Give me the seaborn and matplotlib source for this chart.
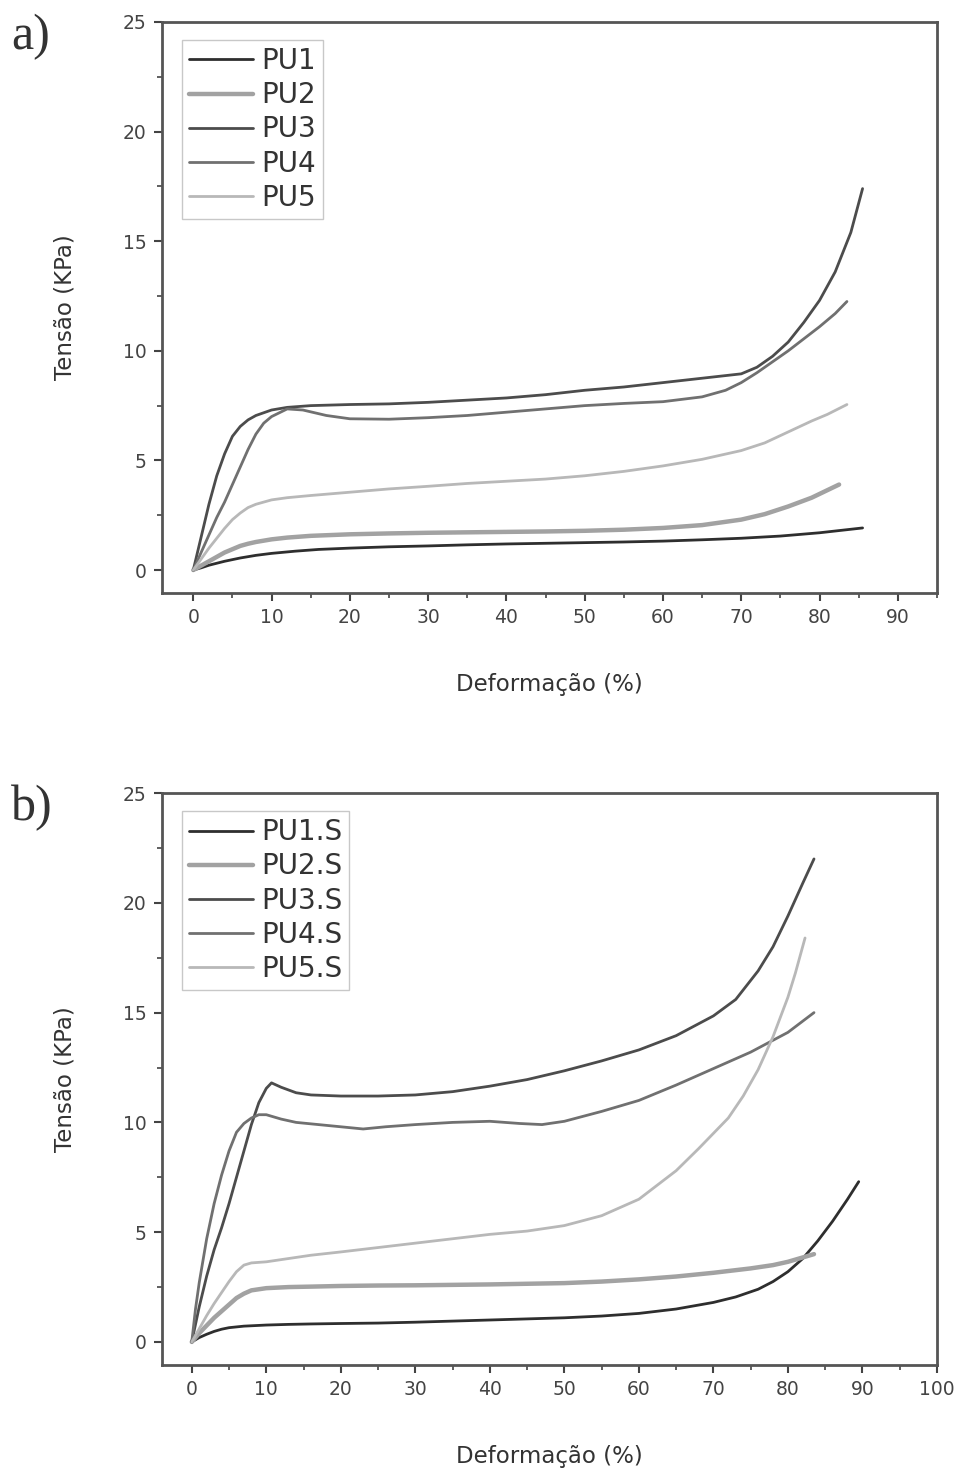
import numpy as np
import pandas as pd
import matplotlib
matplotlib.use("Agg")
import matplotlib.pyplot as plt
from matplotlib.ticker import MultipleLocator
import seaborn as sns

# ---- panel a) data (read off the figure) ----
pu1_x = [0, 1, 2, 4, 6, 8, 10, 13, 16, 20, 25, 30, 35, 40, 45, 50, 55, 60, 65, 70, 75, 80, 85.5]
pu1_y = [0, 0.1, 0.22, 0.4, 0.55, 0.67, 0.76, 0.86, 0.94, 1.0, 1.06, 1.1, 1.15, 1.19, 1.22, 1.25,
         1.28, 1.32, 1.38, 1.45, 1.55, 1.7, 1.92]

pu2_x = [0, 1, 2, 3, 4, 5, 6, 7, 8, 10, 12, 15, 20, 25, 30, 35, 40, 45, 50, 55, 60, 65, 70, 73,
         76, 79, 82.5]
pu2_y = [0, 0.2, 0.4, 0.6, 0.8, 0.95, 1.1, 1.2, 1.28, 1.4, 1.48, 1.56, 1.63, 1.67, 1.7, 1.72,
         1.74, 1.76, 1.79, 1.84, 1.92, 2.05, 2.3, 2.55, 2.9, 3.3, 3.9]

pu3_x = [0, 1, 2, 3, 4, 5, 6, 7, 8, 10, 12, 15, 20, 25, 30, 35, 40, 45, 50, 55, 60, 65, 70, 72,
         74, 76, 78, 80, 82, 84, 85.5]
pu3_y = [0, 1.5, 3.0, 4.3, 5.3, 6.1, 6.55, 6.85, 7.05, 7.3, 7.42, 7.5, 7.55, 7.58, 7.65, 7.75,
         7.85, 8.0, 8.2, 8.35, 8.55, 8.75, 8.95, 9.25, 9.75, 10.4, 11.3, 12.3, 13.6, 15.4, 17.4]

pu4_x = [0, 1, 2, 3, 4, 5, 6, 7, 8, 9, 10, 12, 14, 17, 20, 25, 30, 35, 40, 45, 50, 55, 60, 65,
         68, 70, 72, 74, 76, 78, 80, 82, 83.5]
pu4_y = [0, 0.8, 1.6, 2.4, 3.1, 3.9, 4.7, 5.5, 6.2, 6.7, 7.0, 7.35, 7.3, 7.05, 6.9, 6.88, 6.95,
         7.05, 7.2, 7.35, 7.5, 7.6, 7.68, 7.9, 8.2, 8.55, 9.0, 9.5, 10.0, 10.55, 11.1, 11.7, 12.25]

pu5_x = [0, 1, 2, 3, 4, 5, 6, 7, 8, 10, 12, 15, 20, 25, 30, 35, 40, 45, 50, 55, 60, 65, 70, 73,
         76, 79, 81, 83.5]
pu5_y = [0, 0.5, 1.0, 1.45, 1.9, 2.3, 2.6, 2.85, 3.0, 3.2, 3.3, 3.4, 3.55, 3.7, 3.82, 3.95,
         4.05, 4.15, 4.3, 4.5, 4.75, 5.05, 5.45, 5.8, 6.3, 6.8, 7.1, 7.55]

# ---- panel b) data ----
pu1s_x = [0, 1, 2, 3, 4, 5, 7, 10, 13, 16, 20, 25, 30, 35, 40, 45, 50, 55, 60, 65, 70, 73, 76,
          78, 80, 82, 84, 86, 88, 89.5]
pu1s_y = [0, 0.2, 0.35, 0.48, 0.58, 0.65, 0.72, 0.77, 0.8, 0.82, 0.84, 0.86, 0.9, 0.95, 1.0,
          1.05, 1.1, 1.18, 1.3, 1.5, 1.8, 2.05, 2.4, 2.75, 3.2, 3.8, 4.6, 5.5, 6.5, 7.3]

pu2s_x = [0, 1, 2, 3, 4, 5, 6, 7, 8, 10, 13, 16, 20, 25, 30, 35, 40, 45, 50, 55, 60, 65, 70, 75,
          78, 80, 83.5]
pu2s_y = [0, 0.4, 0.75, 1.1, 1.4, 1.7, 2.0, 2.2, 2.35, 2.45, 2.5, 2.52, 2.55, 2.57, 2.58, 2.6,
          2.62, 2.65, 2.68, 2.75, 2.85, 2.98, 3.15, 3.35, 3.5, 3.65, 4.0]

pu3s_x = [0, 1, 2, 3, 4, 5, 6, 7, 8, 9, 10, 10.7, 12, 14, 16, 20, 25, 30, 35, 40, 45, 50, 55,
          60, 65, 70, 73, 76, 78, 80, 82, 83.5]
pu3s_y = [0, 1.6, 3.0, 4.2, 5.2, 6.3, 7.5, 8.7, 9.9, 10.9, 11.55, 11.8, 11.6, 11.35, 11.25,
          11.2, 11.2, 11.25, 11.4, 11.65, 11.95, 12.35, 12.8, 13.3, 13.95, 14.85, 15.6, 16.9,
          18.0, 19.4, 20.9, 22.0]

pu4s_x = [0, 0.5, 1, 2, 3, 4, 5, 6, 7, 8, 9, 10, 12, 14, 17, 20, 23, 26, 30, 35, 40, 44, 47, 50,
          55, 60, 65, 70, 75, 80, 83.5]
pu4s_y = [0, 1.5, 2.7, 4.7, 6.3, 7.6, 8.7, 9.55, 9.95, 10.2, 10.35, 10.35, 10.15, 10.0, 9.9,
          9.8, 9.7, 9.8, 9.9, 10.0, 10.05, 9.95, 9.9, 10.05, 10.5, 11.0, 11.7, 12.45, 13.2, 14.1,
          15.0]

pu5s_x = [0, 1, 2, 3, 4, 5, 6, 7, 8, 10, 13, 16, 20, 25, 30, 35, 40, 45, 50, 55, 60, 65, 68, 70,
          72, 74, 76, 78, 79, 80, 81, 82.3]
pu5s_y = [0, 0.6, 1.2, 1.75, 2.25, 2.75, 3.2, 3.5, 3.6, 3.65, 3.8, 3.95, 4.1, 4.3, 4.5, 4.7,
          4.9, 5.05, 5.3, 5.75, 6.5, 7.8, 8.8, 9.5, 10.2, 11.2, 12.4, 13.9, 14.8, 15.7, 16.8, 18.4]

labels_a = ['PU1', 'PU2', 'PU3', 'PU4', 'PU5']
labels_b = ['PU1.S', 'PU2.S', 'PU3.S', 'PU4.S', 'PU5.S']
greys = ['#2e2e2e', '#a2a2a2', '#4c4c4c', '#707070', '#b8b8b8']
widths = [2.0, 3.2, 2.0, 2.0, 2.0]

series_a = [(pu1_x, pu1_y), (pu2_x, pu2_y), (pu3_x, pu3_y), (pu4_x, pu4_y), (pu5_x, pu5_y)]
series_b = [(pu1s_x, pu1s_y), (pu2s_x, pu2s_y), (pu3s_x, pu3s_y), (pu4s_x, pu4s_y),
            (pu5s_x, pu5s_y)]

sns.set_style('ticks')
plt.rcParams['font.family'] = ['DejaVu Sans']
plt.rcParams['text.color'] = '#333333'
plt.rcParams['axes.labelcolor'] = '#333333'
plt.rcParams['xtick.color'] = '#444444'
plt.rcParams['ytick.color'] = '#444444'

fig = plt.figure(figsize=(9.55, 14.76), dpi=100)
ax_a = fig.add_axes([0.1696, 0.5982, 0.8115, 0.3869])
ax_b = fig.add_axes([0.1696, 0.0752, 0.8115, 0.3875])


def draw_panel(ax, series, labels, xmax, xmajor):
    for (x, y), lab, c, w in zip(series, labels, greys, widths):
        df = pd.DataFrame({'x': x, 'y': y})
        sns.lineplot(data=df, x='x', y='y', ax=ax, color=c, lw=w, label=lab,
                     sort=False, estimator=None)
    ax.set_xlim(-4.0, xmax)
    ax.set_ylim(-1.05, 25)
    ax.xaxis.set_major_locator(MultipleLocator(xmajor))
    ax.xaxis.set_minor_locator(MultipleLocator(5))
    ax.yaxis.set_major_locator(MultipleLocator(5))
    ax.yaxis.set_minor_locator(MultipleLocator(2.5))
    ax.tick_params(which='major', direction='out', length=6, width=1.5, labelsize=13.5, pad=5)
    ax.tick_params(which='minor', direction='out', length=3.5, width=1.2)
    for s in ax.spines.values():
        s.set_linewidth(2.0)
        s.set_color('#555555')
    ax.set_xlabel('Deformação (%)', fontsize=16.5)
    ax.set_ylabel('Tensão (KPa)', fontsize=16.5)
    ax.xaxis.set_label_coords(0.5, -0.14)
    ax.yaxis.set_label_coords(-0.11, 0.5)
    leg = ax.legend(loc='upper left', bbox_to_anchor=(0.026, 0.968), fontsize=20,
                    frameon=True, fancybox=False, handlelength=2.3, handletextpad=0.3,
                    labelspacing=0.22, borderpad=0.25, borderaxespad=0.0)
    leg.get_frame().set_edgecolor('#bbbbbb')
    leg.get_frame().set_linewidth(1.0)
    for t in leg.get_texts():
        t.set_color('#333333')


draw_panel(ax_a, series_a, labels_a, 95.0, 10)
draw_panel(ax_b, series_b, labels_b, 100.0, 10)

fig.text(0.012, 0.975, 'a)', fontsize=36, family='Liberation Serif', va='center', ha='left',
         color='#333333')
fig.text(0.012, 0.4526, 'b)', fontsize=36, family='Liberation Serif', va='center', ha='left',
         color='#333333')

fig.savefig('out.png', dpi=100, facecolor='white')
